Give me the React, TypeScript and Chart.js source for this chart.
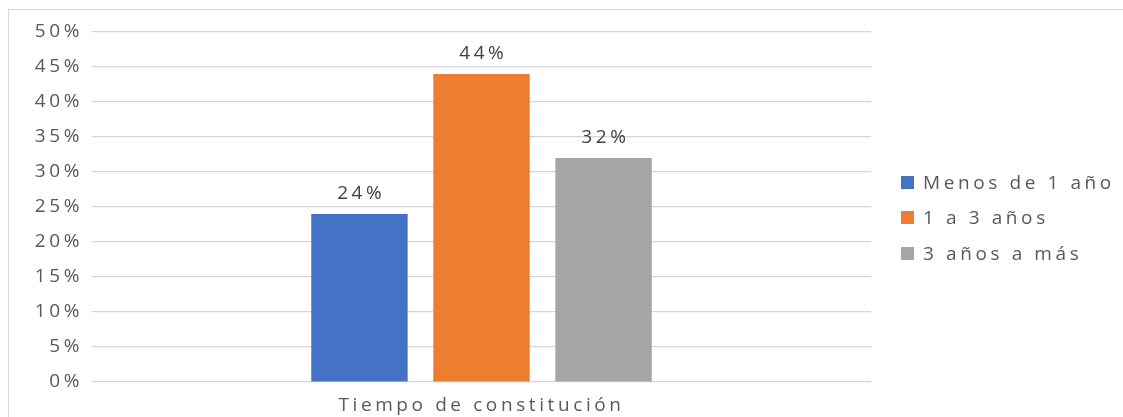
import React, { useEffect, useRef } from "react";
import { Chart, registerables } from "chart.js";

Chart.register(...registerables);

const categories = ["Tiempo de constitución"];
const seriesNames = ["Menos de 1 año", "1 a 3 años", "3 años a más"];
const seriesValues = [24, 44, 32];
const seriesColors = ["#4472C4", "#ED7D31", "#A5A5A5"];
const yTicksMax = 50;
const yStep = 5;

const FONT = "'Open Sans', 'Noto Sans', sans-serif";
const SP = 3.6;
const SPACING = `${SP}px`;
const FS = 19;

const spacingPlugin = {
  id: "spacing",
  beforeUpdate(chart: any) {
    chart.ctx.letterSpacing = SPACING;
  },
  beforeDraw(chart: any) {
    chart.ctx.letterSpacing = SPACING;
  },
};

const borderPlugin = {
  id: "outerBorder",
  beforeDraw(chart: any) {
    const ctx = chart.ctx;
    ctx.save();
    ctx.fillStyle = "#ffffff";
    ctx.fillRect(0, 0, chart.width, chart.height);
    ctx.strokeStyle = "#d9d9d9";
    ctx.lineWidth = 1;
    ctx.strokeRect(8.5, 9.5, chart.width + 20, chart.height + 20);
    ctx.restore();
  },
};

const labelsPlugin = {
  id: "valueLabels",
  afterDatasetsDraw(chart: any) {
    const ctx = chart.ctx;
    ctx.save();
    ctx.letterSpacing = SPACING;
    ctx.font = `${FS}px ${FONT}`;
    ctx.fillStyle = "#404040";
    ctx.textAlign = "center";
    ctx.textBaseline = "middle";
    chart.data.datasets.forEach((ds: any, i: number) => {
      const meta = chart.getDatasetMeta(i);
      meta.data.forEach((bar: any, j: number) => {
        ctx.fillText(`${ds.data[j]}%`, bar.x + SP / 2, bar.y - 20);
      });
    });
    ctx.restore();
  },
};

const legendPlugin = {
  id: "customLegend",
  afterDraw(chart: any) {
    const ctx = chart.ctx;
    ctx.save();
    ctx.letterSpacing = SPACING;
    ctx.font = `${FS}px ${FONT}`;
    ctx.textBaseline = "middle";
    ctx.textAlign = "left";
    chart.data.datasets.forEach((ds: any, i: number) => {
      const cy = 182.5 + i * 35.3;
      ctx.fillStyle = ds.backgroundColor;
      ctx.fillRect(901, Math.round(cy - 6.5), 13, 13);
      ctx.fillStyle = "#595959";
      ctx.fillText(ds.label, 923, cy + 1);
    });
    ctx.restore();
  },
};

export default function App() {
  const ref = useRef<HTMLCanvasElement | null>(null);
  useEffect(() => {
    if (!ref.current) return;
    const chart = new Chart(ref.current, {
      type: "bar",
      data: {
        labels: categories,
        datasets: seriesNames.map((name, i) => ({
          label: name,
          data: [seriesValues[i]],
          backgroundColor: seriesColors[i],
          borderWidth: 0,
          categoryPercentage: 0.47,
          barPercentage: 0.79,
        })),
      },
      options: {
        animation: false,
        responsive: false,
        devicePixelRatio: 1,
        layout: { padding: { left: 0, right: 252, top: 32, bottom: 0 } },
        plugins: {
          legend: { display: false },
          tooltip: { enabled: false },
        },
        scales: {
          x: {
            grid: { display: false, drawTicks: false },
            border: { display: false },
            ticks: {
              color: "#595959",
              font: { family: FONT, size: FS },
              padding: 12,
            },
            afterFit(scale: any) {
              scale.height = 35;
            },
          },
          y: {
            min: 0,
            max: yTicksMax,
            ticks: {
              stepSize: yStep,
              color: "#595959",
              font: { family: FONT, size: FS },
              padding: 9,
              callback: (v: any) => `${v}%`,
            },
            grid: { color: "#d6d6d6", lineWidth: 1.2, drawTicks: false },
            border: { display: false },
            afterFit(scale: any) {
              scale.width = 92;
            },
          },
        },
      },
      plugins: [spacingPlugin, borderPlugin, labelsPlugin, legendPlugin],
    });
    return () => chart.destroy();
  }, []);
  return (
    <div style={{ position: "fixed", left: 0, top: 0, width: 1123, height: 417, overflow: "hidden" }}>
      <canvas ref={ref} width={1123} height={417} style={{ display: "block" }} />
    </div>
  );
}
